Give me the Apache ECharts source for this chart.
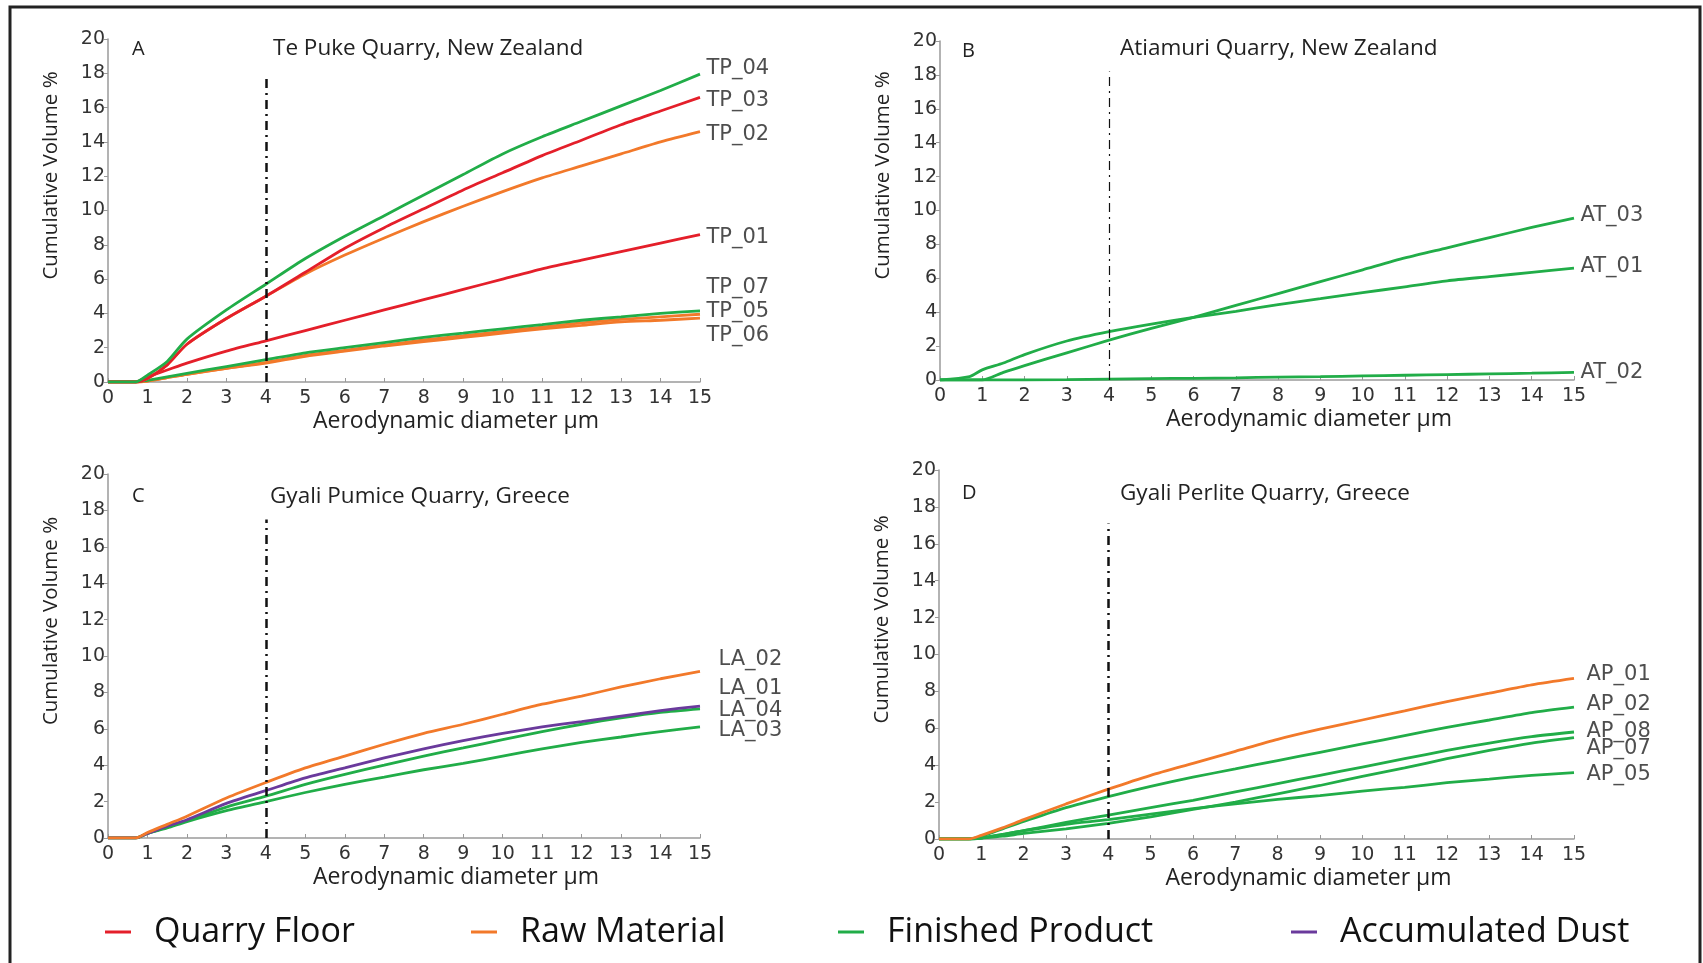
<!DOCTYPE html>
<html>
<head>
<meta charset="utf-8">
<script src="https://cdn.jsdelivr.net/npm/echarts@6/dist/echarts.min.js"></script>
<style>
  html, body { margin: 0; padding: 0; background: #fff; }
  #chart { width: 1703px; height: 963px; }
</style>
</head>
<body>
<div id="chart"></div>
<script>
// aerodynamic diameter (µm) sample points shared by every curve
var DIAM = [0, 0.7, 1, 1.5, 2, 3, 4, 5, 6, 7, 8, 9, 10, 11, 12, 13, 14, 15];
var X_TICKS = [0, 15, 1];
var Y_TICKS = [0, 20, 2];
var CUTOFF = 4;

// A - Te Puke Quarry
var TP_04 = [0, 0, 0.4, 1.2, 2.5, 4.2, 5.7, 7.2, 8.5, 9.7, 10.9, 12.1, 13.3, 14.3, 15.2, 16.1, 17.0, 17.95];
var TP_03 = [0, 0, 0.2, 1.0, 2.2, 3.7, 5.0, 6.4, 7.8, 9.0, 10.1, 11.2, 12.2, 13.2, 14.1, 15.0, 15.8, 16.6];
var TP_02 = [0, 0, 0.2, 1.0, 2.2, 3.7, 5.0, 6.3, 7.4, 8.4, 9.35, 10.25, 11.1, 11.9, 12.6, 13.3, 14.0, 14.6];
var TP_01 = [0, 0, 0.3, 0.7, 1.1, 1.8, 2.4, 3.0, 3.6, 4.2, 4.8, 5.4, 6.0, 6.6, 7.1, 7.6, 8.1, 8.6];
var TP_07 = [0, 0, 0.1, 0.3, 0.5, 0.9, 1.3, 1.7, 2.0, 2.3, 2.6, 2.85, 3.1, 3.35, 3.6, 3.8, 4.0, 4.15];
var TP_05 = [0, 0, 0.05, 0.25, 0.45, 0.8, 1.15, 1.55, 1.85, 2.15, 2.45, 2.7, 2.95, 3.2, 3.45, 3.65, 3.8, 3.95];
var TP_06 = [0, 0, 0.05, 0.25, 0.45, 0.8, 1.1, 1.5, 1.8, 2.1, 2.35, 2.6, 2.85, 3.1, 3.3, 3.5, 3.6, 3.73];

// B - Atiamuri Quarry
var AT_03 = [0, 0, 0, 0.45, 0.85, 1.6, 2.35, 3.05, 3.7, 4.4, 5.1, 5.8, 6.5, 7.2, 7.8, 8.4, 9.0, 9.55];
var AT_01 = [0, 0.2, 0.6, 1.0, 1.5, 2.3, 2.85, 3.3, 3.7, 4.05, 4.45, 4.8, 5.15, 5.5, 5.85, 6.1, 6.35, 6.6];
var AT_02 = [0, 0, 0, 0, 0, 0.02, 0.05, 0.08, 0.1, 0.13, 0.17, 0.2, 0.24, 0.28, 0.32, 0.36, 0.4, 0.45];

// C - Gyali Pumice Quarry
var LA_02 = [0, 0, 0.3, 0.75, 1.2, 2.2, 3.05, 3.85, 4.5, 5.15, 5.75, 6.25, 6.8, 7.35, 7.8, 8.3, 8.75, 9.15];
var LA_01 = [0, 0, 0.25, 0.65, 1.0, 1.9, 2.6, 3.3, 3.85, 4.4, 4.9, 5.35, 5.75, 6.1, 6.4, 6.7, 7.0, 7.25];
var LA_04 = [0, 0, 0.25, 0.6, 0.95, 1.7, 2.3, 2.95, 3.5, 4.0, 4.5, 4.95, 5.4, 5.85, 6.25, 6.6, 6.9, 7.1];
var LA_03 = [0, 0, 0.25, 0.55, 0.9, 1.5, 2.0, 2.5, 2.95, 3.35, 3.75, 4.1, 4.5, 4.9, 5.25, 5.55, 5.85, 6.1];

// D - Gyali Perlite Quarry
var AP_01 = [0, 0, 0.2, 0.6, 1.05, 1.9, 2.7, 3.45, 4.1, 4.75, 5.4, 5.95, 6.45, 6.95, 7.45, 7.9, 8.35, 8.7];
var AP_02 = [0, 0, 0.15, 0.55, 0.95, 1.7, 2.3, 2.85, 3.35, 3.8, 4.25, 4.7, 5.15, 5.6, 6.05, 6.45, 6.85, 7.15];
var AP_08 = [0, 0, 0.05, 0.25, 0.45, 0.9, 1.3, 1.7, 2.1, 2.55, 3.0, 3.45, 3.9, 4.35, 4.8, 5.2, 5.55, 5.8];
var AP_07 = [0, 0, 0.05, 0.15, 0.3, 0.55, 0.85, 1.2, 1.6, 2.0, 2.45, 2.9, 3.4, 3.85, 4.35, 4.8, 5.2, 5.5];
var AP_05 = [0, 0, 0.05, 0.25, 0.45, 0.8, 1.05, 1.35, 1.65, 1.9, 2.15, 2.35, 2.6, 2.8, 3.05, 3.25, 3.45, 3.6];

// sample labels at the right end (name, height on the y scale)
var LABELS_A = [['TP_04', 18.3], ['TP_03', 16.4], ['TP_02', 14.4], ['TP_01', 8.4], ['TP_07', 5.5], ['TP_05', 4.1], ['TP_06', 2.7]];
var LABELS_B = [['AT_03', 9.7], ['AT_01', 6.7], ['AT_02', 0.45]];
var LABELS_C = [['LA_02', 9.8], ['LA_01', 8.2], ['LA_04', 7.0], ['LA_03', 5.9]];
var LABELS_D = [['AP_01', 8.9], ['AP_02', 7.3], ['AP_08', 5.85], ['AP_07', 4.9], ['AP_05', 3.5]];

var CATEGORIES = ['Quarry Floor', 'Raw Material', 'Finished Product', 'Accumulated Dust'];
var COLORS = {
  'Quarry Floor': '#e41f2a',
  'Raw Material': '#f2792a',
  'Finished Product': '#21ad48',
  'Accumulated Dust': '#6a3a9c'
};

var PANELS = [
  { letter: 'A', title: 'Te Puke Quarry, New Zealand', guideTop: 17.7, guideWidth: 2.5, labelGap: 6,
    curves: [['TP_06', TP_06, 'Raw Material'], ['TP_05', TP_05, 'Raw Material'], ['TP_07', TP_07, 'Finished Product'],
             ['TP_01', TP_01, 'Quarry Floor'], ['TP_02', TP_02, 'Raw Material'], ['TP_03', TP_03, 'Quarry Floor'],
             ['TP_04', TP_04, 'Finished Product']],
    labels: LABELS_A },
  { letter: 'B', title: 'Atiamuri Quarry, New Zealand', guideTop: 18.2, guideWidth: 1.2, labelGap: 6,
    curves: [['AT_02', AT_02, 'Finished Product'], ['AT_01', AT_01, 'Finished Product'], ['AT_03', AT_03, 'Finished Product']],
    labels: LABELS_B },
  { letter: 'C', title: 'Gyali Pumice Quarry, Greece', guideTop: 17.5, guideWidth: 2.5, labelGap: 18,
    curves: [['LA_03', LA_03, 'Finished Product'], ['LA_04', LA_04, 'Finished Product'], ['LA_01', LA_01, 'Accumulated Dust'],
             ['LA_02', LA_02, 'Raw Material']],
    labels: LABELS_C },
  { letter: 'D', title: 'Gyali Perlite Quarry, Greece', guideTop: 17.1, guideWidth: 2.5, labelGap: 12,
    curves: [['AP_05', AP_05, 'Finished Product'], ['AP_07', AP_07, 'Finished Product'], ['AP_08', AP_08, 'Finished Product'],
             ['AP_02', AP_02, 'Finished Product'], ['AP_01', AP_01, 'Raw Material']],
    labels: LABELS_D }
];

// layout of the four plots
var GRIDS = [
  { left: 108, top: 39, width: 592, height: 343 },
  { left: 940, top: 41, width: 634, height: 339 },
  { left: 108, top: 474, width: 592, height: 364 },
  { left: 939, top: 470, width: 635, height: 369 }
];
var TITLE_POS = [
  [132, 39, 273, 37], [962, 41, 1120, 37], [132, 486, 270, 485], [962, 483, 1120, 482]
];

var tickFont = 'DejaVu Sans';
var textFont = 'Open Sans';

var grids = [], xAxes = [], yAxes = [], series = [], titles = [];

PANELS.forEach(function (p, i) {
  grids.push(Object.assign({ containLabel: false }, GRIDS[i]));

  xAxes.push({
    gridIndex: i, type: 'value',
    min: X_TICKS[0], max: X_TICKS[1], interval: X_TICKS[2],
    name: 'Aerodynamic diameter µm', nameLocation: 'middle', nameGap: 28,
    nameTextStyle: { fontFamily: textFont, fontSize: 23, color: '#222', padding: [0, 0, 0, 104] },
    axisLine: { onZero: false, lineStyle: { color: '#9a9a9a', width: 1.5 } },
    axisTick: { inside: true, length: 4, lineStyle: { color: '#9a9a9a' } },
    axisLabel: { fontFamily: tickFont, fontSize: 19, color: '#333', margin: 7 },
    splitLine: { show: false }
  });

  yAxes.push({
    gridIndex: i, type: 'value',
    min: Y_TICKS[0], max: Y_TICKS[1], interval: Y_TICKS[2],
    name: 'Cumulative Volume %', nameLocation: 'middle', nameGap: 46,
    nameTextStyle: { fontFamily: textFont, fontSize: 20.5, color: '#222', padding: [0, 0, 0, 70] },
    axisLine: { show: true, lineStyle: { color: '#9a9a9a', width: 1.5 } },
    axisTick: { show: true, length: 4, lineStyle: { color: '#9a9a9a' } },
    axisLabel: { fontFamily: tickFont, fontSize: 19, color: '#333', margin: 3 },
    splitLine: { show: false }
  });

  var tp = TITLE_POS[i];
  titles.push({ text: p.letter, left: tp[0], top: tp[1], padding: 0,
    textStyle: { fontFamily: textFont, fontSize: 20, fontWeight: 'normal', color: '#222' } });
  titles.push({ text: p.title, left: tp[2], top: tp[3], padding: 0,
    textStyle: { fontFamily: textFont, fontSize: 22.5, fontWeight: 'normal', color: '#222' } });

  p.curves.forEach(function (c, k) {
    var s = {
      id: c[0], name: c[2], type: 'line',
      xAxisIndex: i, yAxisIndex: i,
      data: DIAM.map(function (x, j) { return [x, c[1][j]]; }),
      smooth: 0.25,
      showSymbol: false, symbol: 'none',
      lineStyle: { color: COLORS[c[2]], width: 2.8 },
      itemStyle: { color: COLORS[c[2]] },
      silent: true, z: 3
    };
    if (k === 0) {
      s.markLine = {
        silent: true, symbol: 'none', label: { show: false },
        lineStyle: { color: '#111', width: p.guideWidth, type: [9, 5, 2, 5] },
        data: [[{ coord: [CUTOFF, 0] }, { coord: [CUTOFF, p.guideTop] }]]
      };
    }
    series.push(s);
  });

  series.push({
    name: 'labels-' + p.letter, type: 'scatter',
    xAxisIndex: i, yAxisIndex: i,
    symbolSize: 1, itemStyle: { color: 'rgba(0,0,0,0)' }, silent: true,
    data: p.labels.map(function (l) { return [X_TICKS[1], l[1], l[0]]; }),
    label: {
      show: true, position: 'right', distance: p.labelGap,
      formatter: function (q) { return q.data[2]; },
      fontFamily: tickFont, fontSize: 21, color: '#222'
    }
  });
});

var LEGEND_LEFT = [100, 466, 833, 1286];
var legends = CATEGORIES.map(function (cat, i) {
  return {
    data: [{ name: cat, icon: 'rect', itemStyle: { color: COLORS[cat] } }],
    left: LEGEND_LEFT[i], top: 910,
    itemWidth: 26, itemHeight: 3,
    selectedMode: false,
    textStyle: { fontFamily: textFont, fontSize: 34, color: '#111', padding: [0, 0, 0, 18] }
  };
});

var chart = echarts.init(document.getElementById('chart'));
chart.setOption({
  animation: false,
  backgroundColor: '#fff',
  title: titles,
  legend: legends,
  grid: grids,
  xAxis: xAxes,
  yAxis: yAxes,
  series: series,
  graphic: [{
    type: 'rect', silent: true, z: -1,
    shape: { x: 10, y: 7, width: 1690, height: 1000 },
    style: { fill: null, stroke: '#222', lineWidth: 3 }
  }]
});
</script>
</body>
</html>
